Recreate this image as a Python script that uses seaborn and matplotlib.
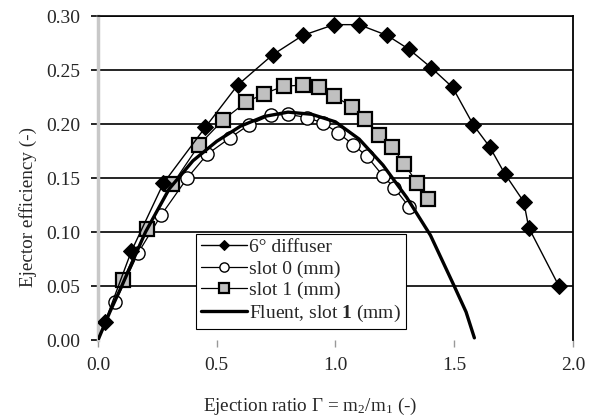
import numpy as np
import pandas as pd
import matplotlib
matplotlib.use("Agg")
import matplotlib.pyplot as plt
import seaborn as sns

# ---- data ----
diff_x = [0.03, 0.14, 0.275, 0.452, 0.588, 0.735, 0.862, 0.994, 1.099, 1.218,
          1.311, 1.404, 1.493, 1.581, 1.649, 1.713, 1.793, 1.814, 1.941]
diff_y = [0.017, 0.082, 0.145, 0.197, 0.236, 0.264, 0.282, 0.292, 0.292, 0.282,
          0.269, 0.252, 0.234, 0.199, 0.179, 0.154, 0.128, 0.104, 0.050]

slot0_x = [0.072, 0.17, 0.267, 0.376, 0.46, 0.555, 0.634, 0.727, 0.80, 0.88,
           0.947, 1.01, 1.074, 1.133, 1.20, 1.247, 1.311]
slot0_y = [0.035, 0.081, 0.116, 0.150, 0.172, 0.187, 0.199, 0.208, 0.209, 0.206,
           0.201, 0.192, 0.181, 0.170, 0.152, 0.141, 0.123]

slot1_x = [0.106, 0.207, 0.313, 0.427, 0.528, 0.622, 0.698, 0.782, 0.862, 0.930,
           0.994, 1.07, 1.125, 1.184, 1.239, 1.290, 1.345, 1.391]
slot1_y = [0.056, 0.103, 0.144, 0.181, 0.204, 0.220, 0.228, 0.235, 0.236, 0.234,
           0.226, 0.216, 0.205, 0.190, 0.179, 0.163, 0.145, 0.131]

fluent_x = [0.0, 0.05, 0.1, 0.2, 0.3, 0.4, 0.5, 0.6, 0.7, 0.8, 0.9, 1.0, 1.1,
            1.2, 1.3, 1.4, 1.5, 1.55, 1.585]
fluent_y = [0.0, 0.026, 0.050, 0.100, 0.140, 0.166, 0.184, 0.198, 0.207, 0.211,
            0.209, 0.202, 0.186, 0.162, 0.132, 0.097, 0.050, 0.026, 0.002]

labels = ["6° diffuser", "slot 0 (mm)", "slot 1 (mm)",
          r"Fluent, slot $\mathbf{1}$ (mm)"]
x_ticks = [0.0, 0.5, 1.0, 1.5, 2.0]
y_ticks = [0.00, 0.05, 0.10, 0.15, 0.20, 0.25, 0.30]

sns.set_theme(style="white")
plt.rcParams["font.family"] = ["Liberation Serif", "DejaVu Serif"]
plt.rcParams["mathtext.fontset"] = "custom"
plt.rcParams["mathtext.rm"] = "Liberation Serif"
plt.rcParams["mathtext.it"] = "Liberation Serif:italic"
plt.rcParams["mathtext.bf"] = "Liberation Serif:bold"

fig = plt.figure(figsize=(5.94, 4.19), dpi=100)
ax = fig.add_axes([0.165, 0.1885, 0.7995, 0.7733])

# gridlines
for yv in y_ticks[1:]:
    ax.axhline(yv, color="black", lw=1.2, zorder=1)

df_f = pd.DataFrame({"x": fluent_x, "y": fluent_y})
df_d = pd.DataFrame({"x": diff_x, "y": diff_y})
df_0 = pd.DataFrame({"x": slot0_x, "y": slot0_y})
df_1 = pd.DataFrame({"x": slot1_x, "y": slot1_y})

sns.lineplot(data=df_d, x="x", y="y", sort=False, ax=ax, color="black", lw=1.0,
             marker="D", markersize=8, markerfacecolor="black",
             markeredgecolor="black", zorder=4)
sns.lineplot(data=df_0, x="x", y="y", sort=False, ax=ax, color="black", lw=0.9,
             marker="o", markersize=9.5, markerfacecolor="white",
             markeredgecolor="black", markeredgewidth=1.0, zorder=3)
sns.lineplot(data=df_1, x="x", y="y", sort=False, ax=ax, color="black", lw=0.9,
             marker="s", markersize=10.5, markerfacecolor="#c0c0c0",
             markeredgecolor="black", markeredgewidth=1.6, zorder=3)
sns.lineplot(data=df_f, x="x", y="y", sort=False, ax=ax, color="black", lw=2.4,
             zorder=5)

ax.set_xlim(0, 2.0)
ax.set_ylim(0, 0.30)
ax.set_xticks(x_ticks)
ax.set_yticks(y_ticks)
ax.set_xticklabels([f"{v:.1f}" for v in x_ticks])
ax.set_yticklabels([f"{v:.2f}" for v in y_ticks])
ax.tick_params(axis="y", length=5, width=1.2, color="black", labelsize=14,
               pad=8, left=True)
ax.tick_params(axis="x", length=5, width=1.0, color="#999999", labelsize=14,
               pad=7, bottom=True)

ax.spines["bottom"].set_visible(False)
ax.spines["left"].set_color("#c8c8c8")
ax.spines["left"].set_linewidth(2.5)
ax.spines["right"].set_color("black")
ax.spines["right"].set_linewidth(1.3)
ax.spines["top"].set_color("black")
ax.spines["top"].set_linewidth(1.2)

ax.set_xlabel(r"Ejection ratio $\Gamma$ = m$_2$/m$_1$ (-)", fontsize=13.8)
ax.set_ylabel("Ejector efficiency (-)", fontsize=13.8)
ax.xaxis.set_label_coords(0.446, -0.172)
ax.yaxis.set_label_coords(-0.147, 0.41)
ax.yaxis.label.set_va("center")
ax.xaxis.label.set_va("top")

h = ax.get_lines()
handles = [h[-4], h[-3], h[-2], h[-1]]
leg = ax.legend(handles, labels, loc="lower left",
                bbox_to_anchor=(0.206, 0.034), frameon=True, fancybox=False,
                edgecolor="black", fontsize=14, handlelength=2.4,
                handletextpad=0.1, borderpad=0.25, labelspacing=0.2,
                markerscale=0.7, borderaxespad=0)
leg.get_frame().set_linewidth(0.8)
leg.get_frame().set_alpha(1)
leg.set_zorder(10)

fig.savefig("out.png", dpi=100)
